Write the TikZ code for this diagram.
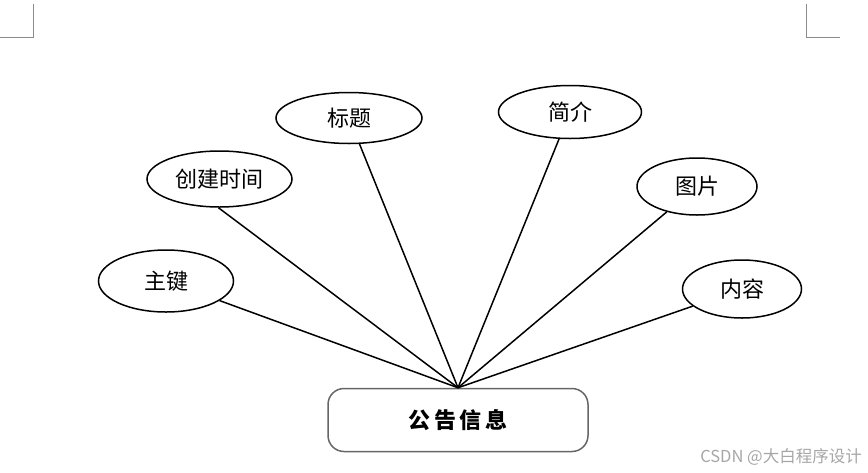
\documentclass[tikz,border=0pt]{standalone}
\usepackage{fontspec}
\newfontfamily\cjk{Noto Sans CJK SC}
\usetikzlibrary{shapes.geometric}
\begin{document}
\begin{tikzpicture}[x=1pt,y=-1pt,
  attr/.style={ellipse,draw=black,line width=1.5pt,inner sep=0pt,font=\cjk\fontsize{22}{22}\selectfont},
  entity/.style={rectangle,rounded corners=16pt,draw=black!60,line width=1.5pt,minimum width=260pt,minimum height=63pt,inner sep=0pt,font=\cjk\bfseries\fontsize{22}{22}\selectfont},
  link/.style={line width=1.5pt},
  cornermark/.style={draw=black!45,line width=1pt}]
\useasboundingbox (0,0) rectangle (868,472);
% corner marks
\coordinate (tl1) at (33,4); \coordinate (tl2) at (33,37); \coordinate (tl3) at (0,37);
\coordinate (tr1) at (806,4); \coordinate (tr2) at (806,37); \coordinate (tr3) at (840,37);
\draw[cornermark] (tl1) -- (tl2) -- (tl3);
\draw[cornermark] (tr1) -- (tr2) -- (tr3);
% entity
\node[entity] (e) at (458,420) {公\,告\,信\,息};
% attributes
\node[attr,minimum width=135pt,minimum height=62pt] (a1) at (166,281) {主键};
\node[attr,minimum width=145pt,minimum height=56pt] (a2) at (219.5,179) {创建时间};
\node[attr,minimum width=146pt,minimum height=51pt] (a3) at (349,118) {标题};
\node[attr,minimum width=143pt,minimum height=53pt] (a4) at (570,112) {简介};
\node[attr,minimum width=120pt,minimum height=57pt] (a5) at (697,186.5) {图片};
\node[attr,minimum width=119pt,minimum height=58pt] (a6) at (742,289) {内容};
% links
\draw[link] (a1) -- (e.north);
\draw[link] (a2.-92) -- (e.north);
\draw[link] (a3) -- (e.north);
\draw[link] (a4) -- (e.north);
\draw[link] (a5.220) -- (e.north);
\draw[link] (a6) -- (e.north);
% watermark
\node[anchor=east,text=black!35,font=\cjk\fontsize{16.5}{16.5}\selectfont,inner sep=0pt] (wm) at (862,457) {CSDN @大白程序设计};
\end{tikzpicture}
\end{document}
